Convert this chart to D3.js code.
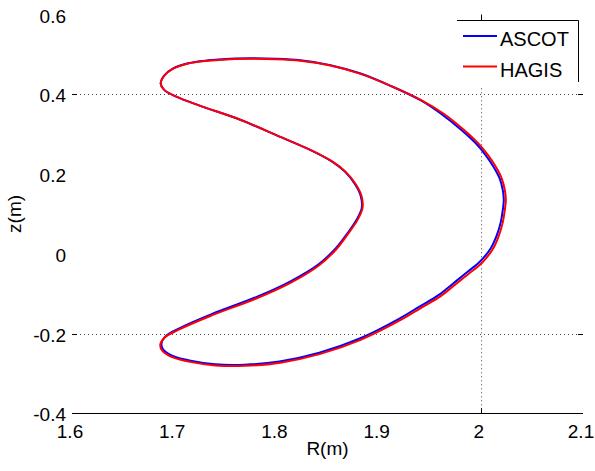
<!DOCTYPE html>
<html>
<head>
<meta charset="utf-8">
<script src="https://cdn.jsdelivr.net/npm/d3@7"></script>
<style>
  html, body { margin: 0; padding: 0; background: #fff; }
  svg { display: block; }
  text { font-family: "Liberation Sans", Arial, Helvetica, sans-serif; fill: #000; }
</style>
</head>
<body>
<script>
// ---- data ----
const xTicks = [1.6, 1.7, 1.8, 1.9, 2.0, 2.1];
const xTickLabels = ["1.6", "1.7", "1.8", "1.9", "2", "2.1"];
const yTicks = [-0.4, -0.2, 0, 0.2, 0.4, 0.6];
const yTickLabels = ["-0.4", "-0.2", "0", "0.2", "0.4", "0.6"];
const xGrid = [2.0];
const yGrid = [-0.2, 0.4];
const seriesNames = ["ASCOT", "HAGIS"];
const seriesColors = ["#0000ff", "#ff0000"];

const ascotR = [1.6868,1.6902,1.699,1.7137,1.7333,1.7549,1.7765,1.799,1.8235,1.8529,1.8824,1.9118,1.9410,
  1.9617,1.9813,1.9951,2.0049,2.0127,2.0186,2.0215,2.0225,2.0215,2.0196,2.0156,2.0098,1.9990,1.9862,1.9727,1.9590,1.9396,1.9200,
  1.8810,1.8420,1.8030,1.7690,1.7400,1.7160,1.6985,1.6895,1.6875,1.6915,1.7050,1.7360,1.7818,1.8138,1.8410,
  1.8582,1.8700,1.8786,1.8835,1.8825,1.8768,1.8670,1.8545,1.8350,1.8038,1.7646,1.7255,1.7020,1.6902];
const ascotZ = [0.427,0.447,0.465,0.478,0.485,0.489,0.490,0.489,0.485,0.473,0.452,0.421,0.385,
  0.350,0.310,0.277,0.247,0.217,0.188,0.160,0.135,0.110,0.080,0.046,0.014,-0.020,-0.047,-0.075,-0.103,-0.133,-0.163,
  -0.213,-0.248,-0.270,-0.278,-0.277,-0.268,-0.256,-0.241,-0.226,-0.207,-0.187,-0.152,-0.107,-0.069,-0.027,
  0.014,0.053,0.086,0.115,0.145,0.175,0.206,0.231,0.258,0.293,0.336,0.371,0.394,0.411];

const hagisR = [1.6868,1.6902,1.699,1.7137,1.7333,1.7549,1.7765,1.799,1.8235,1.8529,1.8824,1.9118,1.9412,
  1.9637,1.9833,1.9971,2.0069,2.0147,2.0206,2.0235,2.0245,2.0235,2.0216,2.0176,2.0118,2.0010,1.9882,1.9745,1.9608,1.9412,1.9216,
  1.8824,1.8431,1.8039,1.7696,1.7402,1.7157,1.698,1.6887,1.6863,1.6902,1.7039,1.7353,1.7814,1.8137,1.8412,
  1.8588,1.8706,1.8794,1.8843,1.8833,1.8775,1.8676,1.8549,1.8353,1.8039,1.7647,1.7255,1.702,1.6902];
const hagisZ = [0.426,0.446,0.464,0.477,0.484,0.488,0.489,0.488,0.484,0.472,0.451,0.421,0.386,
  0.351,0.311,0.278,0.248,0.218,0.188,0.160,0.135,0.110,0.080,0.045,0.012,-0.023,-0.050,-0.078,-0.106,-0.136,-0.166,
  -0.216,-0.251,-0.273,-0.281,-0.280,-0.271,-0.259,-0.244,-0.229,-0.211,-0.191,-0.156,-0.111,-0.073,-0.030,
  0.012,0.052,0.085,0.115,0.145,0.175,0.206,0.231,0.258,0.293,0.336,0.371,0.394,0.411];

// ---- layout ----
const W = 595, H = 471;
const svg = d3.select("body").append("svg").attr("width", W).attr("height", H);

const x = d3.scaleLinear().domain([1.6, 2.1]).range([72, 583]);
const y = d3.scaleLinear().domain([-0.4, 0.6]).range([413.3, 14.5]);

const fs = 19;

// grid lines (dotted)
const gridColor = "#444";
yGrid.forEach(v => {
  const yy = Math.round(y(v)) + 0.5;
  svg.append("line")
    .attr("x1", x(1.6)).attr("x2", x(2.1))
    .attr("y1", yy).attr("y2", yy)
    .attr("stroke", gridColor).attr("stroke-width", 1)
    .attr("stroke-dasharray", "1,3");
  svg.append("line").attr("x1", x(1.6)).attr("x2", x(1.6) + 5)
    .attr("y1", yy).attr("y2", yy).attr("stroke", "#000");
  svg.append("line").attr("x1", x(2.1) - 5).attr("x2", x(2.1))
    .attr("y1", yy).attr("y2", yy).attr("stroke", "#000");
});
xGrid.forEach(v => {
  const xx = Math.round(x(v)) + 0.5;
  svg.append("line")
    .attr("x1", xx).attr("x2", xx)
    .attr("y1", y(-0.4)).attr("y2", 86)
    .attr("stroke", gridColor).attr("stroke-width", 1)
    .attr("stroke-dasharray", "1,3");
  svg.append("line").attr("x1", xx).attr("x2", xx)
    .attr("y1", y(-0.4) - 5).attr("y2", y(-0.4)).attr("stroke", "#000");
  svg.append("line").attr("x1", xx).attr("x2", xx)
    .attr("y1", y(0.6)).attr("y2", 20).attr("stroke", "#000");
});

// bottom axis line
svg.append("line")
  .attr("x1", x(1.6)).attr("x2", x(2.1))
  .attr("y1", Math.round(y(-0.4)) + 0.5).attr("y2", Math.round(y(-0.4)) + 0.5)
  .attr("stroke", "#000").attr("stroke-width", 1);

// x tick labels
svg.append("g").selectAll("text").data(xTicks).join("text")
  .attr("x", d => x(d) - 2)
  .attr("y", 438)
  .attr("text-anchor", "middle")
  .attr("font-size", fs)
  .text((d, i) => xTickLabels[i]);

// y tick labels
svg.append("g").selectAll("text").data(yTicks).join("text")
  .attr("x", 66)
  .attr("y", d => y(d) + 8)
  .attr("text-anchor", "end")
  .attr("font-size", fs)
  .text((d, i) => yTickLabels[i]);

// axis labels
svg.append("text")
  .attr("x", (x(1.6) + x(2.1)) / 2)
  .attr("y", 455)
  .attr("text-anchor", "middle")
  .attr("font-size", fs)
  .text("R(m)");
svg.append("text")
  .attr("transform", `translate(21,${(y(-0.4) + y(0.6)) / 2}) rotate(-90)`)
  .attr("text-anchor", "middle")
  .attr("font-size", fs)
  .text("z(m)");

// curves
const line = d3.line().x(d => x(d[0])).y(d => y(d[1])).curve(d3.curveCatmullRomClosed.alpha(0.5));
const series = [
  ascotR.map((r, i) => [r, ascotZ[i]]),
  hagisR.map((r, i) => [r, hagisZ[i]])
];
series.forEach((pts, i) => {
  svg.append("path")
    .attr("d", line(pts))
    .attr("fill", "none")
    .attr("stroke", seriesColors[i])
    .attr("stroke-width", 2);
});

// legend
const lg = svg.append("g");
lg.append("line").attr("x1", 457).attr("x2", 578.5).attr("y1", 20.5).attr("y2", 20.5).attr("stroke", "#000");
lg.append("line").attr("x1", 578.5).attr("x2", 578.5).attr("y1", 20.5).attr("y2", 82).attr("stroke", "#000");
const legY = [36, 66.5];
seriesNames.forEach((name, i) => {
  lg.append("line").attr("x1", 463).attr("x2", 497)
    .attr("y1", legY[i]).attr("y2", legY[i])
    .attr("stroke", seriesColors[i]).attr("stroke-width", 2);
  lg.append("text").attr("x", 500).attr("y", legY[i] + 10)
    .attr("font-size", 20).text(name);
});
</script>
</body>
</html>
